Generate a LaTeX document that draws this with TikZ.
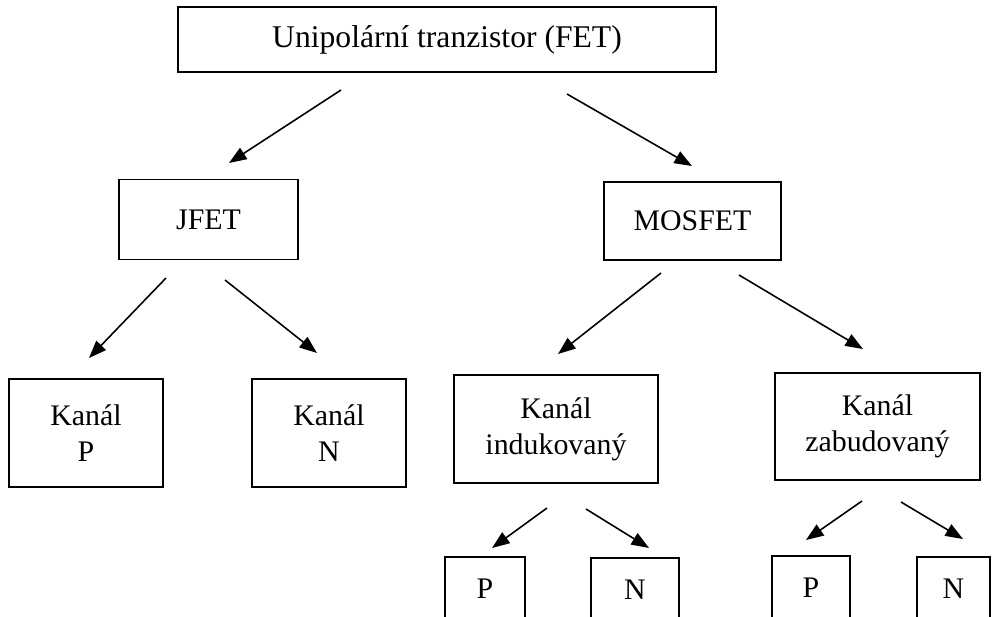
\documentclass[tikz,border=0pt]{standalone}
\usepackage{fontspec}
\setmainfont{Liberation Serif}
\usepackage{tikz}
\usetikzlibrary{arrows.meta}
\tikzset{
  box/.style={draw,line width=0.9pt,inner sep=0pt,align=center},
  sz/.style 2 args={minimum width=#1*0.02cm,minimum height=#2*0.02cm},
  arr/.style={line width=0.9pt,-{Triangle[length=10pt,width=7.5pt]}}
}

\begin{document}
\begin{tikzpicture}[x=0.02cm,y=-0.02cm,font=\fontsize{17}{20.4}\selectfont]
\useasboundingbox (0,0) rectangle (995,616);
\clip (0,0) rectangle (995,616);
% boxes
\node[box,sz={538}{65},font=\fontsize{18}{21.6}\selectfont] (fet) at (447,39.5) {Unipolární tranzistor (FET)};
\node[box,sz={179}{80}] (jfet) at (208.5,219.5) {JFET};
\node[box,sz={177}{78}] (mos) at (692.5,221) {MOSFET};
\node[box,sz={154}{108}] (kp) at (86,433) {Kanál\\P};
\node[box,sz={154}{108}] (kn) at (329,433) {Kanál\\N};
\node[box,sz={204}{108}] (kind) at (556,429) {Kanál\\indukovaný};
\node[box,sz={205}{107}] (kzab) at (877.5,426.5) {Kanál\\zabudovaný};
\node[box,sz={80}{63}] (ip) at (485,588.5) {P};
\node[box,sz={88}{63}] (in) at (635,589.5) {N};
\node[box,sz={78}{64}] (zp) at (811,588) {P};
\node[box,sz={73}{63}] (zn) at (953.5,588.5) {N};
% arrow ends
\coordinate (fet-l) at (341,90);   \coordinate (jfet-t) at (229,163);
\coordinate (fet-r) at (567,94);   \coordinate (mos-t) at (692,166);
\coordinate (jfet-l) at (166,278); \coordinate (kp-t) at (89,358);
\coordinate (jfet-r) at (225,280); \coordinate (kn-t) at (317,353);
\coordinate (mos-l) at (661,273);  \coordinate (kind-t) at (558,354);
\coordinate (mos-r) at (739,275);  \coordinate (kzab-t) at (863,349);
\coordinate (kind-l) at (547,508); \coordinate (ip-t) at (492,548);
\coordinate (kind-r) at (586,509); \coordinate (in-t) at (649,548);
\coordinate (kzab-l) at (862,501); \coordinate (zp-t) at (806,540);
\coordinate (kzab-r) at (901,502); \coordinate (zn-t) at (963,539);
% arrows
\draw[arr] (fet-l) -- (jfet-t);
\draw[arr] (fet-r) -- (mos-t);
\draw[arr] (jfet-l) -- (kp-t);
\draw[arr] (jfet-r) -- (kn-t);
\draw[arr] (mos-l) -- (kind-t);
\draw[arr] (mos-r) -- (kzab-t);
\draw[arr] (kind-l) -- (ip-t);
\draw[arr] (kind-r) -- (in-t);
\draw[arr] (kzab-l) -- (zp-t);
\draw[arr] (kzab-r) -- (zn-t);
\end{tikzpicture}
\end{document}
